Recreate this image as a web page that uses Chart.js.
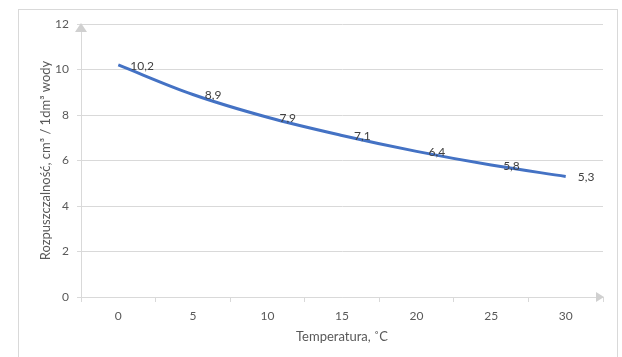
<!DOCTYPE html>
<html><head><meta charset="utf-8">
<script src="https://cdn.jsdelivr.net/npm/chart.js@4/dist/chart.umd.min.js"></script>
<style>html,body{margin:0;padding:0;background:#fff}#wrap{width:622px;height:357px}</style>
</head><body><div id="wrap"><canvas id="c" width="622" height="357"></canvas></div>
<script>
const categories = ['0','5','10','15','20','25','30'];
const solubility = [10.2, 8.9, 7.9, 7.1, 6.4, 5.8, 5.3];
const dataLabels = ['10,2','8,9','7,9','7,1','6,4','5,8','5,3'];
const yTitle = 'Rozpuszczalność, cm³ / 1dm³ wody';
const xTitle = 'Temperatura, ˚C';

const FONT = 'Lato, "Open Sans", sans-serif';
const GRID = '#d9d9d9';

const decor = {
  id: 'decor',
  beforeDraw(chart) {
    const ctx = chart.ctx;
    ctx.save();
    ctx.strokeStyle = GRID;
    ctx.lineWidth = 1;
    ctx.strokeRect(18.5, 9.5, 599, 400);
    ctx.restore();
  },
  afterDraw(chart) {
    const ctx = chart.ctx, a = chart.chartArea;
    ctx.save();
    ctx.fillStyle = '#d0d0d0';
    ctx.beginPath();
    ctx.moveTo(a.left, a.top - 1);
    ctx.lineTo(a.left - 6, a.top + 8);
    ctx.lineTo(a.left + 6, a.top + 8);
    ctx.closePath(); ctx.fill();
    ctx.beginPath();
    ctx.moveTo(a.right + 1, a.bottom);
    ctx.lineTo(a.right - 7, a.bottom - 5);
    ctx.lineTo(a.right - 7, a.bottom + 5);
    ctx.closePath(); ctx.fill();
    ctx.restore();
  },
  afterDatasetsDraw(chart) {
    const ctx = chart.ctx;
    const meta = chart.getDatasetMeta(0);
    ctx.save();
    ctx.font = '12px ' + FONT;
    ctx.fillStyle = '#404040';
    ctx.textAlign = 'left';
    ctx.textBaseline = 'middle';
    meta.data.forEach((p, i) => {
      ctx.fillText(dataLabels[i], p.x + 12, p.y + 1);
    });
    ctx.restore();
  }
};

new Chart(document.getElementById('c'), {
  type: 'line',
  data: {
    labels: categories,
    datasets: [{
      data: solubility,
      borderColor: '#4472C4',
      borderWidth: 3,
      pointRadius: 0,
      tension: 0.35,
      fill: false
    }]
  },
  options: {
    responsive: false,
    animation: false,
    devicePixelRatio: 1,
    layout: { padding: { top: 24, right: 19, left: 0, bottom: 0 } },
    plugins: { legend: { display: false }, tooltip: { enabled: false } },
    scales: {
      x: {
        offset: true,
        grid: { drawOnChartArea: false, offset: true, tickLength: 5, color: GRID },
        border: { color: GRID, width: 1 },
        ticks: { color: '#595959', font: { family: FONT, size: 12 }, padding: 7, maxRotation: 0 },
        title: { display: true, text: xTitle, color: '#595959', font: { family: FONT, size: 13 }, padding: { top: 4, bottom: 12 } },
        afterFit(s) { s.height = 60; }
      },
      y: {
        min: 0, max: 12,
        ticks: { stepSize: 2, color: '#595959', font: { family: FONT, size: 12 }, padding: 8 },
        grid: { color: GRID, tickLength: 4 },
        border: { color: GRID, width: 1 },
        title: { display: true, text: yTitle, color: '#595959', font: { family: FONT, size: 13 }, padding: { top: 38, bottom: 4 } },
        afterFit(s) { s.width = 81; }
      }
    }
  },
  plugins: [decor]
});
</script>
</body></html>
